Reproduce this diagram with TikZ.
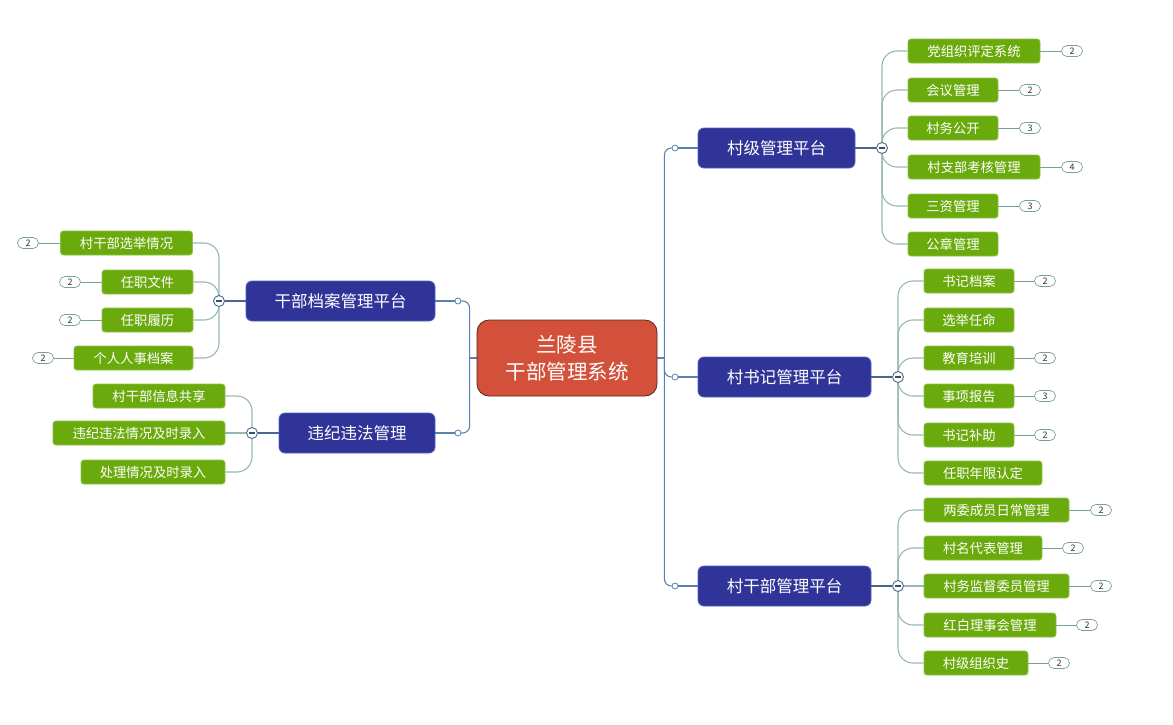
\documentclass[tikz,border=0pt]{standalone}
\usepackage{fontspec}
\newfontfamily\cjk{Noto Sans CJK SC}
\usetikzlibrary{backgrounds}
\definecolor{leafgreen}{RGB}{106,170,12}
\definecolor{leafborder}{RGB}{140,195,70}
\definecolor{midblue}{RGB}{48,52,152}
\definecolor{midborder}{RGB}{80,96,190}
\definecolor{rootred}{RGB}{211,80,58}
\definecolor{rootborder}{RGB}{90,40,30}
\definecolor{trunkcol}{RGB}{90,130,175}
\definecolor{leafline}{RGB}{150,184,176}
\definecolor{badgeline}{RGB}{120,160,155}
\tikzset{
  leaf/.style={draw=leafborder, fill=leafgreen, rounded corners=3, minimum height=24, inner sep=0, text=white, font=\cjk\fontsize{13.3}{15}\selectfont, line width=0.8},
  mid/.style={draw=midborder, fill=midblue, rounded corners=6, minimum height=40, inner sep=0, text=white, font=\cjk\fontsize{16.5}{19}\selectfont, line width=0.8},
  root/.style={draw=rootborder, fill=rootred, rounded corners=12, minimum width=180, minimum height=76, inner sep=0, text=white, align=center, font=\cjk\fontsize{20.5}{27}\selectfont, line width=0.8},
  badge/.style={draw=badgeline, fill=white, rounded corners=5.5, minimum width=21, minimum height=11, inner sep=0, font=\cjk\fontsize{9}{10}\selectfont, text=black!80, line width=0.7},
  dotnode/.style={circle, draw=trunkcol, fill=white, minimum size=6, inner sep=0, line width=0.8},
  collapse/.style={circle, draw=trunkcol!80!black, fill=white, minimum size=11, inner sep=0, line width=0.9,
    path picture={\draw[line width=1.3, trunkcol!60!black] ([xshift=-3]path picture bounding box.center) -- ([xshift=3]path picture bounding box.center);}},
  trunk/.style={draw=trunkcol, line width=1.1},
  pline/.style={draw=trunkcol!80!black, line width=1.1},
  lline/.style={draw=leafline, line width=1.1},
  bline/.style={draw=badgeline, line width=1},
}
\begin{document}
\begin{tikzpicture}[x=1pt,y=-1pt]
\useasboundingbox (0,0) rectangle (1173,724);
% root
\node[root] (root) at (567,358) {兰陵县\\干部管理系统};
\coordinate (rj) at ([xshift=7]root.east);
\coordinate (lj) at ([xshift=-7]root.west);
% mid nodes
\node[mid, minimum width=157] (b1) at (776.5,148) {村级管理平台};
\node[mid, minimum width=173] (b2) at (784.5,377) {村书记管理平台};
\node[mid, minimum width=173] (b3) at (784.5,586) {村干部管理平台};
\node[mid, minimum width=189] (b4) at (340.5,301) {干部档案管理平台};
\node[mid, minimum width=156] (b5) at (357,433) {违纪违法管理};
% dots
\node[dotnode] (d1) at (675,148) {};
\node[dotnode] (d2) at (675,377) {};
\node[dotnode] (d3) at (675,586) {};
\node[dotnode] (d4) at (458,301) {};
\node[dotnode] (d5) at (458,433) {};
% collapse
\node[collapse] (k1) at (882,148) {};
\node[collapse] (k2) at (898,377) {};
\node[collapse] (k3) at (898,586) {};
\node[collapse] (k4) at (219,301) {};
\node[collapse] (k5) at (252,433) {};
% group 1
\node[leaf, minimum width=132] (a11) at (974,51) {党组织评定系统};
\node[leaf, minimum width=90] (a12) at (953,90) {会议管理};
\node[leaf, minimum width=90] (a13) at (953,128) {村务公开};
\node[leaf, minimum width=132] (a14) at (974,167) {村支部考核管理};
\node[leaf, minimum width=90] (a15) at (953,206) {三资管理};
\node[leaf, minimum width=90] (a16) at (953,244) {公章管理};
\node[badge] (g11) at (1072,51) {2};
\node[badge] (g12) at (1030,90) {2};
\node[badge] (g13) at (1030,128) {3};
\node[badge] (g14) at (1072,167) {4};
\node[badge] (g15) at (1030,206) {3};
% group 2
\node[leaf, minimum width=90] (a21) at (969,281) {书记档案};
\node[leaf, minimum width=90] (a22) at (969,320) {选举任命};
\node[leaf, minimum width=90] (a23) at (969,358) {教育培训};
\node[leaf, minimum width=90] (a24) at (969,396) {事项报告};
\node[leaf, minimum width=90] (a25) at (969,435) {书记补助};
\node[leaf, minimum width=118] (a26) at (983,473) {任职年限认定};
\node[badge] (g21) at (1045,281) {2};
\node[badge] (g23) at (1045,358) {2};
\node[badge] (g24) at (1045,396) {3};
\node[badge] (g25) at (1045,435) {2};
% group 3
\node[leaf, minimum width=145] (a31) at (996.5,510) {两委成员日常管理};
\node[leaf, minimum width=118] (a32) at (983,548) {村名代表管理};
\node[leaf, minimum width=145] (a33) at (996.5,586) {村务监督委员管理};
\node[leaf, minimum width=132] (a34) at (990,625) {红白理事会管理};
\node[leaf, minimum width=104] (a35) at (976,663) {村级组织史};
\node[badge] (g31) at (1101,510) {2};
\node[badge] (g32) at (1073,548) {2};
\node[badge] (g33) at (1101,586) {2};
\node[badge] (g34) at (1087,625) {2};
\node[badge] (g35) at (1059,663) {2};
% group 4
\node[leaf, minimum width=132] (a41) at (126.5,243) {村干部选举情况};
\node[leaf, minimum width=91] (a42) at (147.5,282) {任职文件};
\node[leaf, minimum width=91] (a43) at (147.5,320) {任职履历};
\node[leaf, minimum width=119] (a44) at (133.5,358) {个人人事档案};
\node[badge] (g41) at (28,243) {2};
\node[badge] (g42) at (70,282) {2};
\node[badge] (g43) at (70,320) {2};
\node[badge] (g44) at (43,358) {2};
% group 5
\node[leaf, minimum width=132] (a51) at (159,396) {村干部信息共享};
\node[leaf, minimum width=172] (a52) at (139,433) {违纪违法情况及时录入};
\node[leaf, minimum width=144] (a53) at (153,472) {处理情况及时录入};
% connectors
\begin{scope}[on background layer]
\draw[trunk] (root.east) -- (rj);
\draw[trunk] (root.west) -- (lj);
\draw[trunk, rounded corners=7] (rj) |- (d1);
\draw[trunk, rounded corners=7] (rj) |- (d2);
\draw[trunk, rounded corners=7] (rj) |- (d3);
\draw[trunk, rounded corners=7] (lj) |- (d4);
\draw[trunk, rounded corners=7] (lj) |- (d5);
\foreach \i in {1,2,3}{\draw[trunk] (d\i) -- (b\i.west); \draw[pline] (b\i.east) -- (k\i);}
\foreach \i in {4,5}{\draw[trunk] (d\i) -- (b\i.east); \draw[pline] (b\i.west) -- (k\i);}
\foreach \j in {1,...,6}{\draw[lline, rounded corners=15] (k1) |- (a1\j.west);}
\foreach \j in {1,...,6}{\draw[lline, rounded corners=15] (k2) |- (a2\j.west);}
\foreach \j in {1,2,4,5}{\draw[lline, rounded corners=15] (k3) |- (a3\j.west);}
\draw[lline] (k3) -- (a33.west);
\foreach \j in {1,...,4}{\draw[lline, rounded corners=15] (k4) |- (a4\j.east);}
\foreach \j in {1,3}{\draw[lline, rounded corners=15] (k5) |- (a5\j.east);}
\draw[lline] (k5) -- (a52.east);
\foreach \j in {1,...,5}{\draw[bline] (a1\j.east) -- (g1\j.west);}
\foreach \j in {1,3,4,5}{\draw[bline] (a2\j.east) -- (g2\j.west);}
\foreach \j in {1,...,5}{\draw[bline] (a3\j.east) -- (g3\j.west);}
\foreach \j in {1,...,4}{\draw[bline] (a4\j.west) -- (g4\j.east);}
\end{scope}
\end{tikzpicture}
\end{document}
